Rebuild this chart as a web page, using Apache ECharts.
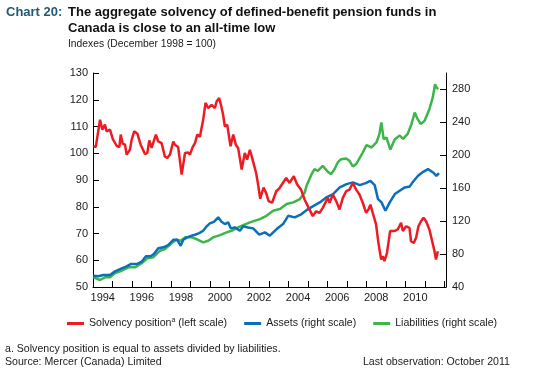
<!DOCTYPE html>
<html>
<head>
    <meta charset="utf-8">
    <title>Chart 20</title>
    <script src="https://cdn.jsdelivr.net/npm/echarts@6/dist/echarts.min.js"></script>
</head>
<style>
    html, body {
        margin: 0;
        background: #fff;
    }
    #main {
        width: 543px;
        height: 375px;
    }
</style>
<body>
    <div id="main"></div>
    <script type="text/javascript">
        // solvency position (left scale)
        var solvYears = [1994.02, 1994.14, 1994.36, 1994.48, 1994.61, 1994.70, 1994.87, 1995.01, 1995.09, 1995.21,
            1995.35, 1995.42, 1995.52, 1995.64, 1995.72, 1995.89, 1995.98, 1996.11, 1996.27, 1996.44,
            1996.54, 1996.66, 1996.78, 1996.88, 1997.00, 1997.22, 1997.34, 1997.51, 1997.68, 1997.80,
            1997.94, 1998.11, 1998.19, 1998.36, 1998.54, 1998.71, 1998.87, 1998.96, 1999.10, 1999.22,
            1999.34, 1999.47, 1999.64, 1999.76, 1999.90, 2000.07, 2000.24, 2000.33, 2000.46, 2000.55,
            2000.66, 2000.75, 2000.87, 2001.04, 2001.18, 2001.31, 2001.43, 2001.61, 2001.77, 2001.89,
            2002.03, 2002.17, 2002.35, 2002.44, 2002.56, 2002.73, 2002.86, 2002.99, 2003.17, 2003.38,
            2003.55, 2003.72, 2003.89, 2004.06, 2004.28, 2004.45, 2004.65, 2004.83, 2005.08, 2005.25,
            2005.42, 2005.60, 2005.76, 2006.02, 2006.11, 2006.28, 2006.45, 2006.62, 2006.79, 2006.96,
            2007.13, 2007.30, 2007.47, 2007.64, 2007.81, 2007.98, 2008.10, 2008.20, 2008.32, 2008.49,
            2008.61, 2008.75, 2008.83, 2008.92, 2009.05, 2009.21, 2009.43, 2009.60, 2009.77, 2009.86,
            2010.03, 2010.20, 2010.28, 2010.42, 2010.54, 2010.66, 2010.79, 2010.92, 2011.05, 2011.22,
            2011.34, 2011.48, 2011.56, 2011.65];
        var solvValues = [102.6, 102.3, 112.5, 108.8, 110.7, 108.2, 108.8, 105.4, 105.9, 102.8,
            102.3, 107.0, 103.6, 103.2, 99.5, 101.3, 105.1, 108.2, 107.3, 103.2,
            103.8, 99.7, 100.1, 104.8, 102.0, 107.0, 104.4, 103.8, 98.8, 98.2,
            99.5, 104.4, 103.2, 102.3, 92.0, 100.1, 100.3, 99.5, 102.3, 103.8,
            107.0, 106.1, 112.5, 118.8, 116.9, 118.1, 116.9, 119.4, 120.6, 118.1,
            114.4, 110.0, 110.7, 102.6, 107.0, 103.2, 102.0, 93.9, 100.1, 97.6,
            101.3, 97.6, 92.6, 88.9, 83.0, 87.2, 85.2, 82.1, 81.5, 85.8,
            87.0, 88.9, 90.8, 88.9, 91.4, 88.3, 86.4, 82.7, 79.0, 76.5,
            78.3, 77.7, 79.6, 83.3, 81.5, 84.6, 82.1, 79.0, 83.3, 85.8,
            86.4, 88.9, 86.4, 84.6, 81.5, 77.7, 79.0, 80.8, 77.7, 73.4,
            66.5, 60.3, 61.5, 59.7, 62.8, 70.9, 70.9, 71.5, 74.0, 70.9,
            72.7, 72.1, 67.1, 66.5, 68.4, 72.7, 74.6, 75.9, 74.6, 71.5,
            67.8, 63.4, 60.3, 63.4];

        // assets (right scale)
        var assetYears = [1994.02, 1994.27, 1994.53, 1994.87, 1995.13, 1995.47, 1995.72, 1995.93, 1996.24, 1996.49,
            1996.71, 1996.95, 1997.12, 1997.34, 1997.60, 1997.85, 1998.11, 1998.31, 1998.49, 1998.62,
            1998.82, 1999.05, 1999.22, 1999.44, 1999.64, 1999.82, 1999.98, 2000.19, 2000.41, 2000.58,
            2000.75, 2000.92, 2001.06, 2001.26, 2001.52, 2001.69, 2001.94, 2002.20, 2002.51, 2002.80,
            2003.05, 2003.40, 2003.73, 2003.99, 2004.33, 2004.68, 2005.01, 2005.36, 2005.61, 2005.95,
            2006.29, 2006.63, 2006.98, 2007.31, 2007.66, 2007.96, 2008.20, 2008.42, 2008.59, 2008.77,
            2008.97, 2009.19, 2009.45, 2009.70, 2009.96, 2010.22, 2010.38, 2010.64, 2010.90, 2011.15,
            2011.41, 2011.58, 2011.71];
        var assetValues = [53.7, 53.0, 54.6, 54.6, 59.0, 62.7, 65.1, 67.9, 67.9, 70.7,
            77.3, 77.3, 80.0, 87.0, 88.2, 91.0, 97.4, 97.4, 90.1, 97.4,
            100.3, 102.3, 103.5, 105.5, 108.3, 113.7, 117.3, 119.2, 124.6, 119.2,
            116.5, 118.5, 111.2, 112.4, 108.3, 113.7, 112.4, 111.2, 103.6, 106.4,
            102.3, 110.4, 116.5, 126.5, 124.6, 128.6, 134.7, 139.5, 142.8, 148.9,
            152.9, 161.0, 165.0, 167.1, 163.8, 166.2, 169.0, 163.8, 146.8, 142.8,
            132.6, 142.8, 152.9, 156.9, 161.0, 162.2, 167.8, 175.1, 179.9, 183.2,
            179.2, 175.1, 178.4];

        // liabilities (right scale)
        var liabYears = [1994.02, 1994.36, 1994.61, 1994.87, 1995.13, 1995.47, 1995.81, 1996.15, 1996.49, 1996.78,
            1997.08, 1997.43, 1997.68, 1998.03, 1998.28, 1998.49, 1998.71, 1999.05, 1999.30, 1999.64,
            1999.90, 2000.15, 2000.50, 2000.84, 2001.09, 2001.43, 2001.69, 2002.03, 2002.54, 2002.88,
            2003.22, 2003.57, 2003.91, 2004.25, 2004.59, 2004.84, 2004.93, 2005.19, 2005.34, 2005.51,
            2005.76, 2006.02, 2006.19, 2006.36, 2006.53, 2006.70, 2006.96, 2007.13, 2007.30, 2007.47,
            2007.64, 2007.81, 2008.00, 2008.26, 2008.51, 2008.66, 2008.76, 2008.88, 2009.02, 2009.22,
            2009.45, 2009.70, 2009.87, 2010.11, 2010.30, 2010.47, 2010.62, 2010.78, 2010.97, 2011.22,
            2011.39, 2011.51, 2011.58, 2011.67];
        var liabValues = [51.8, 48.5, 51.8, 51.8, 57.0, 59.8, 63.9, 63.9, 68.8, 74.8,
            76.0, 84.1, 86.1, 93.4, 97.4, 96.2, 100.3, 100.3, 98.3, 94.2,
            96.2, 100.3, 103.1, 106.4, 108.3, 112.4, 115.2, 118.5, 122.5, 126.5,
            132.6, 134.7, 140.8, 142.8, 146.8, 154.9, 162.9, 177.1, 183.2, 181.2,
            187.2, 180.0, 177.1, 183.0, 191.3, 195.3, 196.2, 193.3, 186.5, 189.3,
            196.2, 203.4, 212.3, 209.5, 215.6, 225.7, 240.0, 219.6, 221.7, 207.0,
            219.6, 224.0, 220.0, 226.0, 237.8, 252.0, 243.9, 238.0, 241.8, 256.0,
            270.0, 286.4, 282.4, 280.3];

        var leftTicks = [50, 130, 10];
        var rightTicks = [40, 300, 40];

        function pairs(xs, ys) {
            var out = [];
            for (var i = 0; i < xs.length; i++) {
                out.push([xs[i], ys[i]]);
            }
            return out;
        }

        var FONT = '"Liberation Sans", Arial, Helvetica, sans-serif';
        var RED = '#ed1c24', BLUE = '#0b6fba', GREEN = '#3cb54a';
        var txt = {fontFamily: FONT, fontSize: 11, color: '#1a1a1a'};

        var axisLine = {show: true, lineStyle: {color: '#000', width: 1}};
        var axisTick = {show: true, inside: true, length: 6, lineStyle: {color: '#000'}};

        var option = {
            animation: false,
            backgroundColor: '#fff',
            textStyle: {fontFamily: FONT},
            graphic: [
                {type: 'text', left: 6, top: 6, style: {text: 'Chart 20:', font: 'bold 13px ' + FONT, fill: '#1f5b70'}},
                {type: 'text', left: 68, top: 6, style: {text: 'The aggregate solvency of defined-benefit pension funds in', font: 'bold 13px ' + FONT, fill: '#111'}},
                {type: 'text', left: 68, top: 21.5, style: {text: 'Canada is close to an all-time low', font: 'bold 13px ' + FONT, fill: '#111'}},
                {type: 'text', left: 68, top: 39.5, style: {text: 'Indexes (December 1998 = 100)', font: '10.3px ' + FONT, fill: '#1a1a1a'}},
                {type: 'text', left: 5, top: 343.5, style: {text: 'a. Solvency position is equal to assets divided by liabilities.', font: '10.6px ' + FONT, fill: '#1a1a1a'}},
                {type: 'text', left: 5, top: 356.5, style: {text: 'Source: Mercer (Canada) Limited', font: '10.6px ' + FONT, fill: '#1a1a1a'}},
                {type: 'text', right: 33, top: 356.5, style: {text: 'Last observation: October 2011', font: '10.6px ' + FONT, fill: '#1a1a1a'}}
            ],
            legend: {
                left: 67,
                top: 317,
                padding: 0,
                icon: 'rect',
                itemWidth: 17,
                itemHeight: 3,
                itemGap: 17,
                textStyle: {
                    fontFamily: FONT, fontSize: 10.6, color: '#1a1a1a',
                    rich: {sup: {fontFamily: FONT, fontSize: 7, color: '#1a1a1a', padding: [0, 0, 6, 0]}}
                },
                formatter: function (name) {
                    if (name === 'Solvency') return 'Solvency position{sup|a} (left scale)';
                    return name;
                },
                data: ['Solvency', 'Assets (right scale)', 'Liabilities (right scale)']
            },
            grid: {left: 93, right: 97, top: 73, bottom: 88},
            xAxis: {
                type: 'value',
                min: 1994,
                max: 2012.07,
                interval: 1,
                axisLine: axisLine,
                axisTick: axisTick,
                splitLine: {show: false},
                axisLabel: Object.assign({}, txt, {
                    margin: 5,
                    padding: [0, 0, 0, 19.5],
                    formatter: function (v) {
                        return (v % 2 === 0 && v < 2011) ? String(v) : '';
                    }
                })
            },
            yAxis: [
                {
                    type: 'value',
                    min: leftTicks[0], max: leftTicks[1], interval: leftTicks[2],
                    axisLine: axisLine,
                    axisTick: axisTick,
                    splitLine: {show: false},
                    axisLabel: Object.assign({}, txt, {margin: 5})
                },
                {
                    type: 'value',
                    position: 'right',
                    min: rightTicks[0], max: rightTicks[1], interval: rightTicks[2],
                    axisLine: axisLine,
                    axisTick: axisTick,
                    splitLine: {show: false},
                    axisLabel: Object.assign({}, txt, {margin: 6, showMaxLabel: false})
                }
            ],
            series: [
                {
                    name: 'Solvency', type: 'line', yAxisIndex: 0,
                    data: pairs(solvYears, solvValues),
                    showSymbol: false, color: RED,
                    lineStyle: {width: 2.5, color: RED}, z: 3
                },
                {
                    name: 'Assets (right scale)', type: 'line', yAxisIndex: 1,
                    data: pairs(assetYears, assetValues),
                    showSymbol: false, color: BLUE,
                    lineStyle: {width: 2.5, color: BLUE}, z: 2
                },
                {
                    name: 'Liabilities (right scale)', type: 'line', yAxisIndex: 1,
                    data: pairs(liabYears, liabValues),
                    showSymbol: false, color: GREEN,
                    lineStyle: {width: 2.5, color: GREEN}, z: 1
                }
            ]
        };

        var myChart = echarts.init(document.getElementById('main'));
        myChart.setOption(option);
    </script>
</body>
</html>
